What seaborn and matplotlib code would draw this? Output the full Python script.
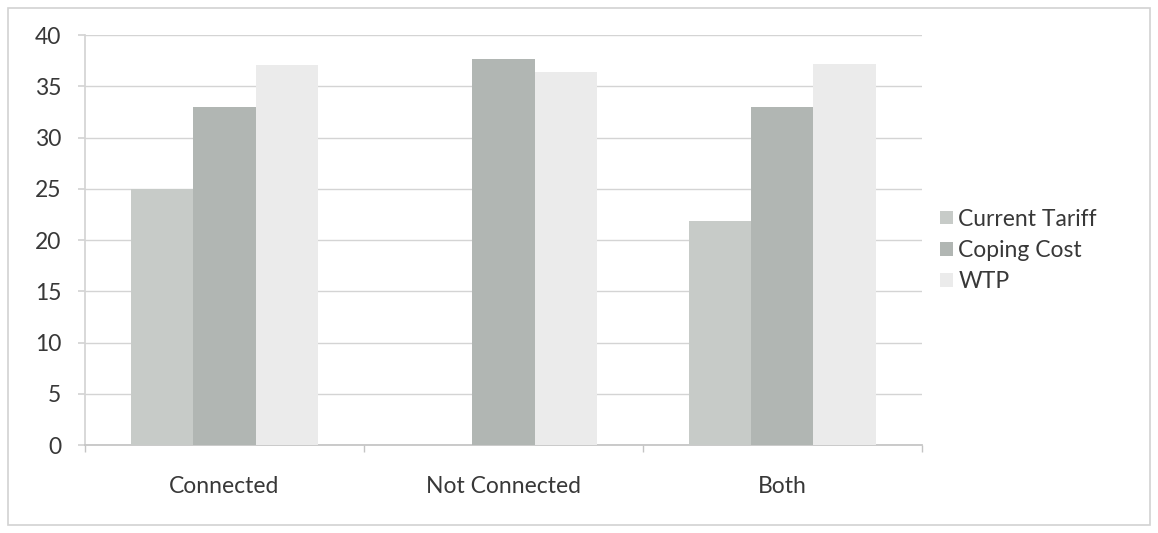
import matplotlib
matplotlib.use("Agg")
import matplotlib.pyplot as plt
from matplotlib.patches import Rectangle
import numpy as np
import pandas as pd
import seaborn as sns

# Grouped categories and the three cost series
categories = ["Connected", "Not Connected", "Both"]
current_tariff = [25.0, np.nan, 21.9]
coping_cost = [33.0, 37.7, 33.0]
wtp = [37.1, 36.4, 37.2]
series_names = ["Current Tariff", "Coping Cost", "WTP"]
y_ticks = [0, 5, 10, 15, 20, 25, 30, 35, 40]

df = pd.DataFrame({
    "category": categories * 3,
    "series": [s for s in series_names for _ in categories],
    "value": current_tariff + coping_cost + wtp,
})

sns.set_theme(style="white")
plt.rcParams["font.family"] = ["Lato", "DejaVu Sans"]

text_color = "#383838"
grid_color = "#d4d4d4"
palette = {"Current Tariff": "#c7cbc8", "Coping Cost": "#b1b6b3", "WTP": "#ebebeb"}

fig = plt.figure(figsize=(11.58, 5.33), dpi=100)
ax = fig.add_axes([0.0734, 0.165, 0.7226, 0.769])

sns.barplot(data=df, x="category", y="value", hue="series", order=categories,
            hue_order=series_names, palette=palette, width=0.67, gap=0,
            saturation=1, edgecolor="none", linewidth=0, ax=ax, zorder=3)

ax.set_xlim(-0.5, 2.5)
ax.set_ylim(0, 40)
ax.set_yticks(y_ticks)
ax.yaxis.grid(True, color=grid_color, linewidth=1, zorder=0)
ax.set_axisbelow(True)
ax.set_xlabel("")
ax.set_ylabel("")

for side in ["top", "right"]:
    ax.spines[side].set_visible(False)
ax.spines["left"].set_color(grid_color)
ax.spines["bottom"].set_color("#c4c4c4")

# Category labels sit between tick marks drawn at group boundaries
ax.set_xticks(range(len(categories)))
ax.set_xticklabels(categories)
ax.set_xticks([-0.5, 0.5, 1.5, 2.5], minor=True)
ax.tick_params(axis="x", which="major", length=0, pad=22, labelsize=16.5, labelcolor=text_color)
ax.tick_params(axis="x", which="minor", length=5, color="#c4c4c4", direction="out", bottom=True)
ax.tick_params(axis="y", which="major", length=5, color=grid_color, direction="out",
               pad=12, labelsize=16.5, labelcolor=text_color, left=True)

handles, labels = ax.get_legend_handles_labels()
ax.get_legend().remove()
fig.legend(handles, labels, loc="center left", bbox_to_anchor=(0.794, 0.53),
           frameon=False, fontsize=16.5, labelcolor=text_color, handlelength=0.55,
           handleheight=0.55, handletextpad=0.25, labelspacing=0.45)

# Light chart-area border
fig.patches.append(Rectangle((0.007, 0.015), 0.986, 0.97, transform=fig.transFigure,
                             fill=False, edgecolor="#d2d2d2", linewidth=1.2))

fig.savefig("out.png", dpi=100)
